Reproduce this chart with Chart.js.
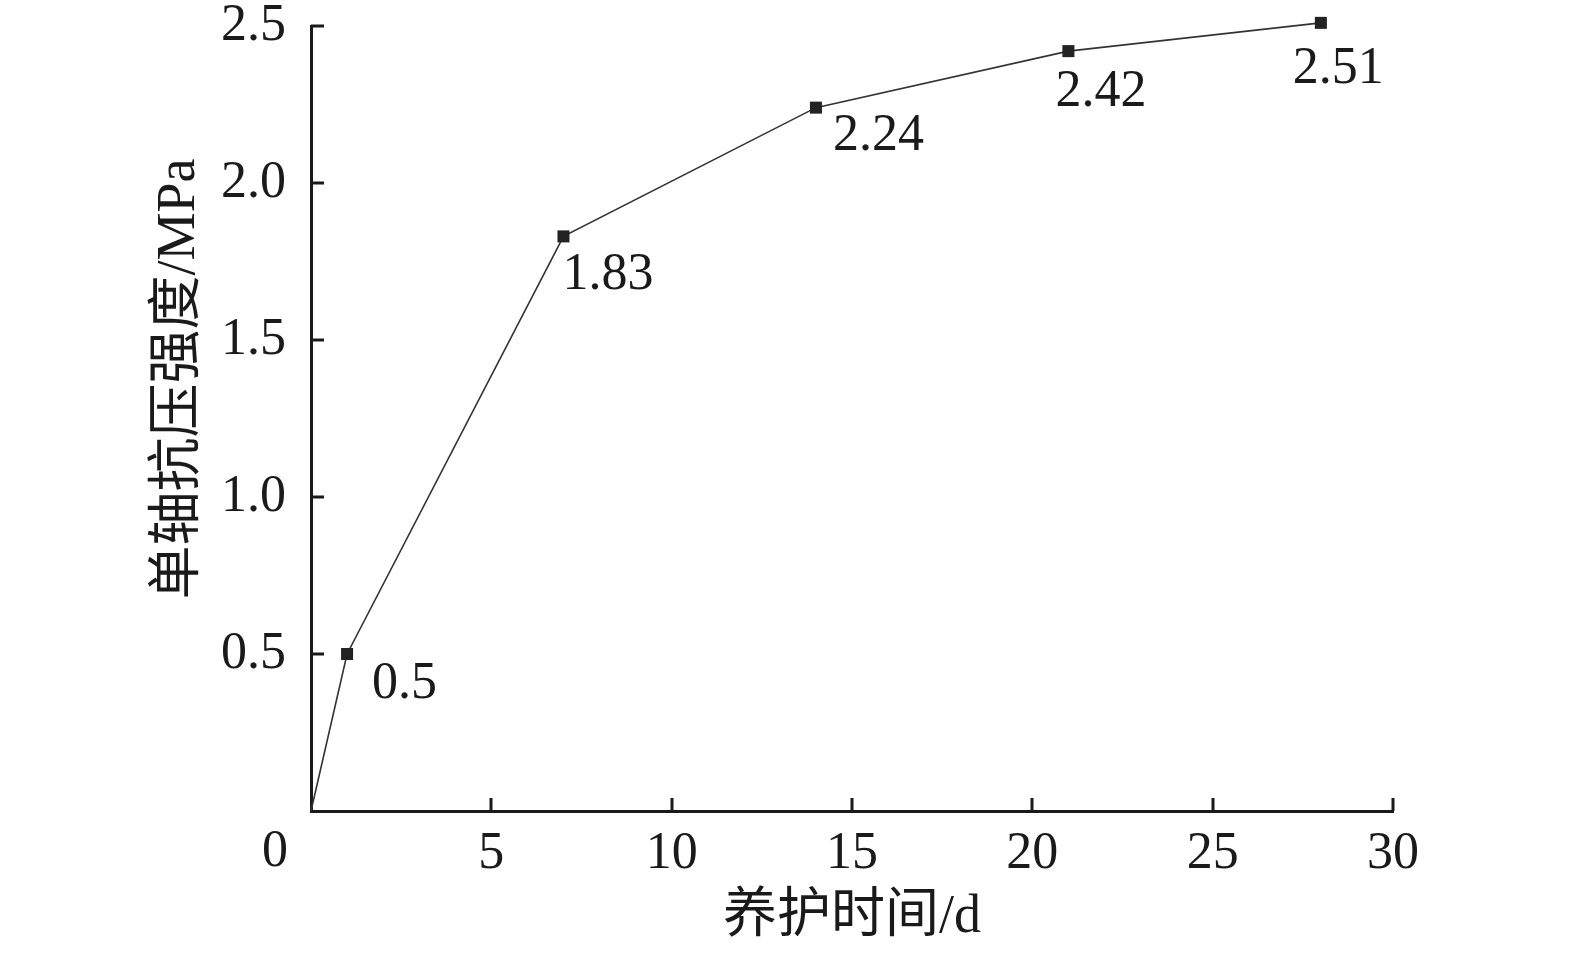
<!DOCTYPE html>
<html>
<head>
<meta charset="utf-8">
<script src="https://cdn.jsdelivr.net/npm/chart.js@4/dist/chart.umd.min.js"></script>
<style>
  html, body { margin: 0; padding: 0; background: #fff; }
  #wrap { width: 1575px; height: 963px; position: relative; }
</style>
</head>
<body>
<div id="wrap"><canvas id="chart"></canvas></div>
<script>
// data
const days = [0, 1, 7, 14, 21, 28];
const strength = [0, 0.5, 1.83, 2.24, 2.42, 2.51];
const xMin = 0, xMax = 30, xStep = 5;
const yMin = 0, yMax = 2.5, yStep = 0.5;
const xTitle = '养护时间/d';
const yTitle = '单轴抗压强度/MPa';

// styling for value labels: offset of text left/baseline from the point
const labelOffsets = [null, [25, 44], [-1, 53], [17, 42], [-13, 55], [-28, 60]];

const SERIF = '"Liberation Serif", "Times New Roman", "Noto Sans CJK SC", serif';
const INK = '#1a1a1a';

// inward tick marks, the lone "0", value labels and y title
const decor = {
  id: 'decor',
  afterDraw(chart) {
    const { ctx, chartArea: a, scales: { x, y } } = chart;
    ctx.save();
    ctx.strokeStyle = INK;
    ctx.lineWidth = 3;
    ctx.beginPath();
    x.ticks.forEach(t => {
      if (t.value === xMin) return;
      const px = Math.round(x.getPixelForValue(t.value));
      ctx.moveTo(px, a.bottom);
      ctx.lineTo(px, a.bottom - 13);
    });
    y.ticks.forEach(t => {
      if (t.value === yMin) return;
      const py = Math.round(y.getPixelForValue(t.value));
      ctx.moveTo(a.left, py);
      ctx.lineTo(a.left + 13, py);
    });
    ctx.stroke();

    ctx.fillStyle = INK;
    ctx.font = '52px ' + SERIF;
    ctx.textAlign = 'center';
    ctx.textBaseline = 'middle';
    ctx.fillText('0', 275, 852);

    // value labels
    const meta = chart.getDatasetMeta(0);
    ctx.textAlign = 'left';
    ctx.textBaseline = 'alphabetic';
    meta.data.forEach((pt, i) => {
      const off = labelOffsets[i];
      if (!off) return;
      ctx.fillText(String(strength[i]), pt.x + off[0], pt.y + off[1]);
    });

    // y axis title
    ctx.translate(180, 379);
    ctx.rotate(-Math.PI / 2);
    ctx.textAlign = 'center';
    ctx.textBaseline = 'middle';
    ctx.font = '54px ' + SERIF;
    ctx.fillText(yTitle, 0, 0);
    ctx.restore();
  }
};

new Chart(document.getElementById('chart'), {
  type: 'line',
  data: {
    datasets: [{
      data: days.map((d, i) => ({ x: d, y: strength[i] })),
      borderColor: '#333',
      borderWidth: 1.6,
      pointStyle: 'rect',
      pointRadius: days.map((d, i) => i === 0 ? 0 : 8.5),
      pointBackgroundColor: '#222',
      pointBorderWidth: 0,
      tension: 0,
      clip: false
    }]
  },
  options: {
    responsive: true,
    maintainAspectRatio: false,
    animation: false,
    layout: { padding: { top: 26, right: 182, bottom: 0, left: 0 } },
    plugins: { legend: { display: false }, tooltip: { enabled: false } },
    scales: {
      x: {
        type: 'linear',
        min: xMin, max: xMax,
        afterFit: s => { s.height = 152; s.paddingLeft = 0; s.paddingRight = 0; },
        grid: { display: false },
        border: { display: true, color: INK, width: 3 },
        ticks: {
          stepSize: xStep,
          padding: 4,
          color: INK,
          font: { family: SERIF, size: 52 },
          callback: v => v === xMin ? '' : v
        },
        title: {
          display: true,
          text: xTitle,
          color: INK,
          font: { family: SERIF, size: 54 },
          padding: { top: 0, bottom: 13 }
        }
      },
      y: {
        type: 'linear',
        min: yMin, max: yMax,
        afterFit: s => { s.width = 311; s.paddingTop = 0; s.paddingBottom = 0; },
        grid: { display: false },
        border: { display: true, color: INK, width: 3 },
        ticks: {
          stepSize: yStep,
          padding: 17,
          color: INK,
          font: { family: SERIF, size: 52 },
          callback: v => v === yMin ? '' : v.toFixed(1)
        }
      }
    }
  },
  plugins: [decor]
});
</script>
</body>
</html>
